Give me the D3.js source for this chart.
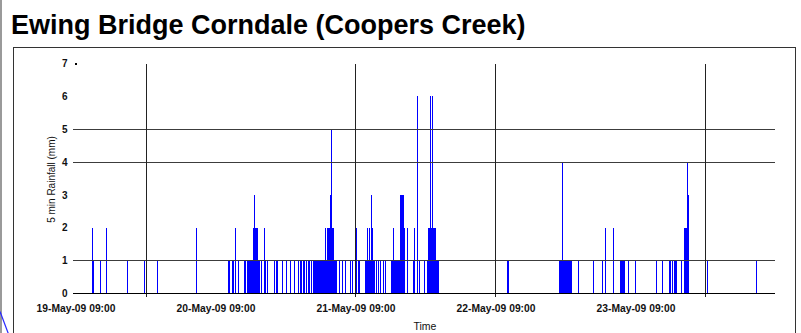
<!DOCTYPE html>
<html>
<head>
<meta charset="utf-8">
<script src="https://cdn.jsdelivr.net/npm/d3@7"></script>
<style>
  html, body { margin: 0; padding: 0; background: #fff; }
  svg { display: block; }
  text { font-family: "Liberation Sans", Arial, sans-serif; }
</style>
</head>
<body>
<svg id="chart" width="801" height="333"></svg>
<script>
const chartTitle = "Ewing Bridge Corndale (Coopers Creek)";
const yTitle = "5 min Rainfall (mm)";
const xTitle = "Time";

// 5-minute rainfall totals (mm) per calendar day, as [time of reading, mm]
const may19 = [
  ["11:50",2],["12:00",1],["13:10",1],["14:15",2],["17:45",1],["20:40",1],["23:00",1]
];
const may20 = [
  ["05:35",2],["11:05",1],["11:15",1],["11:50",1],["12:00",1],["12:20",2],["12:50",1],
  ["13:50",1],["14:05",1],["14:20",1],["14:35",1],["14:45",1],
  ["14:55",1],["15:00",1],["15:05",1],["15:10",1],["15:15",1],["15:20",1],["15:25",2],
  ["15:30",2],["15:35",2],["15:40",3],["15:45",2],["15:50",2],["15:55",2],["16:00",2],
  ["16:05",2],["16:10",2],["16:15",1],
  ["16:30",1],["16:50",1],["17:15",2],["17:30",1],["17:45",1],["19:05",1],["19:20",1],
  ["19:30",1],["20:20",1],["21:05",1],["21:50",1],["22:30",1],["23:10",1],["23:25",1],["23:40",1]
];
const may21 = [
  ["00:00",1],["00:15",1],["00:35",1],["00:50",1],["01:05",1],["01:20",1],
  ["01:40",1],["01:45",1],["01:50",1],["01:55",1],["02:00",1],["02:05",1],["02:10",1],
  ["02:15",1],["02:20",1],["02:25",1],["02:30",1],["02:35",1],["02:40",1],["02:45",1],
  ["02:50",1],["02:55",1],["03:00",1],["03:05",1],["03:10",1],["03:15",1],["03:20",1],
  ["03:25",1],["03:30",1],["03:35",1],["03:40",1],
  ["03:45",2],["03:50",1],["03:55",1],["04:05",2],["04:10",1],["04:15",1],["04:20",2],
  ["04:25",2],["04:30",2],["04:35",2],["04:40",3],["04:45",5],["04:50",2],["04:55",2],
  ["05:00",2],["05:05",2],["05:10",1],["05:15",1],["05:25",1],["05:40",1],
  ["06:15",1],["06:40",1],["07:15",1],["08:00",1],["08:20",1],["09:05",2],["09:25",1],["09:40",1],
  ["10:35",1],["10:45",1],["11:00",2],["11:10",1],["11:20",2],["11:30",1],["11:40",3],
  ["11:45",2],["11:50",1],["12:00",1],["12:05",1],["12:15",1],
  ["12:35",1],["12:55",1],["13:15",1],["13:40",1],["14:05",1],
  ["15:05",1],["15:10",1],["15:15",1],["15:20",1],["15:25",1],["15:30",2],["15:35",1],
  ["15:40",1],["15:45",1],["15:50",1],["15:55",1],["16:00",1],["16:05",1],["16:10",1],
  ["16:15",1],["16:20",1],["16:25",1],["16:30",1],["16:35",1],
  ["16:40",3],["16:45",3],["16:50",3],["16:55",3],["17:00",3],["17:05",3],["17:10",3],["17:15",2],
  ["17:50",2],["18:50",1],["19:00",2],["19:35",6],["19:50",1],["20:40",1],
  ["21:15",1],["21:20",1],["21:25",2],["21:30",2],["21:35",2],["21:40",2],["21:45",6],
  ["21:50",2],["21:55",2],["22:00",2],["22:05",6],["22:10",2],["22:15",2],["22:20",2],
  ["22:25",2],["22:30",2],["22:35",2],["22:40",1],["22:45",1],["22:50",1],["22:55",1],
  ["23:00",1],["23:05",1]
];
const may22 = [
  ["11:00",1],["11:05",1],["11:10",1],
  ["19:50",1],["20:00",1],["20:10",1],["20:15",1],["20:20",1],["20:25",4],["20:35",1],
  ["20:40",1],["20:50",1],["21:05",1],["21:10",1],["21:20",1],["21:25",1],["21:35",1],
  ["21:40",1],["21:50",1],["22:00",1],["23:10",1]
];
const may23 = [
  ["01:40",1],["03:20",1],["03:45",2],["05:05",2],
  ["06:20",1],["06:25",1],["06:30",1],["06:35",1],["06:40",1],["06:45",1],["06:50",1],
  ["06:55",1],["07:00",1],["07:05",1],
  ["07:40",1],["08:55",1],["12:30",1],["13:30",1],["14:40",1],["14:50",1],["15:15",1],
  ["15:35",1],["15:50",1],["16:00",1],["16:45",1],
  ["17:15",2],["17:20",2],["17:25",2],["17:30",2],["17:35",2],["17:50",4],["17:55",3],
  ["21:20",1]
];
const may24 = [
  ["05:35",1]
];
const dailyReadings = [
  ["2009-05-19", may19], ["2009-05-20", may20], ["2009-05-21", may21],
  ["2009-05-22", may22], ["2009-05-23", may23], ["2009-05-24", may24]
];

const timeSpan = ["2009-05-19 09:00", "2009-05-24 09:00"];
const xTickTimes = ["2009-05-19 09:00", "2009-05-20 09:00", "2009-05-21 09:00",
                    "2009-05-22 09:00", "2009-05-23 09:00"];
const xGridTimes = ["2009-05-19 21:10", "2009-05-21 09:00", "2009-05-22 09:00", "2009-05-23 21:00"];
const yTickValues = [0, 1, 2, 3, 4, 5, 6, 7];
const yGridValues = [1, 4, 5];

const parse = d3.timeParse("%Y-%m-%d %H:%M");
const readings = dailyReadings.flatMap(([day, rows]) =>
  rows.map(([hm, mm]) => ({ t: parse(day + " " + hm), mm })));

const svg = d3.select("#chart");

const x = d3.scaleTime().domain(timeSpan.map(parse)).range([75.5, 775.5]);
const y = d3.scaleLinear().domain([0, 7]).range([293.5, 63.5]);

// page edge and stray connector line at the lower left
svg.append("rect").attr("x", 0).attr("y", 0).attr("width", 2).attr("height", 333).attr("fill", "#9a9a9a");
svg.append("line").attr("x1", 0).attr("y1", 311.5).attr("x2", 8.5).attr("y2", 334)
  .attr("stroke", "#2a2aff").attr("stroke-width", 1.2);

// title
svg.append("text").attr("x", 11).attr("y", 33.5)
  .attr("font-size", 27).attr("font-weight", "bold").attr("fill", "#000")
  .text(chartTitle);

// chart frame
svg.append("rect").attr("x", 13.5).attr("y", 47.5).attr("width", 782).attr("height", 300)
  .attr("fill", "#fff").attr("stroke", "#333").attr("stroke-width", 1);

// rainfall bars
const xs = d3.timeMinute.offset;
svg.append("g").attr("shape-rendering", "crispEdges")
  .selectAll("rect").data(readings).join("rect")
  .attr("x", d => x(d.t))
  .attr("width", d => Math.max(1, x(xs(d.t, 5)) - x(d.t)))
  .attr("y", d => y(d.mm))
  .attr("height", d => y(0) - y(d.mm))
  .attr("fill", "#0000ff");

// grid
const grid = svg.append("g").attr("shape-rendering", "crispEdges");
grid.selectAll("line.h").data(yGridValues).join("line").attr("class", "h")
  .attr("x1", 72.5).attr("x2", 775)
  .attr("y1", d => y(d)).attr("y2", d => y(d))
  .attr("stroke", "#3c3c3c").attr("stroke-width", 1);
grid.selectAll("line.v").data(xGridTimes.map(parse)).join("line").attr("class", "v")
  .attr("x1", d => x(d)).attr("x2", d => x(d))
  .attr("y1", y(7)).attr("y2", y(0) + 3)
  .attr("stroke", "#222").attr("stroke-width", 1);
grid.append("line").attr("x1", 72.5).attr("x2", 774.5)
  .attr("y1", y(0)).attr("y2", y(0)).attr("stroke", "#000");
grid.append("rect").attr("x", 75).attr("y", y(7) - 1).attr("width", 2).attr("height", 2).attr("fill", "#000");

// axes
const yAxis = svg.append("g").attr("transform", "translate(75.5,0)")
  .call(d3.axisLeft(y).tickValues(yTickValues).tickFormat(d3.format("d")).tickSize(0).tickPadding(8));
yAxis.select(".domain").remove();
yAxis.selectAll("text").attr("font-size", 10).attr("font-weight", "bold").attr("fill", "#111")
  .attr("font-family", "'Liberation Sans', Arial, sans-serif");

const xAxis = svg.append("g").attr("transform", `translate(0,${y(0)})`)
  .call(d3.axisBottom(x).tickValues(xTickTimes.map(parse))
    .tickFormat(d3.timeFormat("%d-%b-%y %H:%M")).tickSize(0).tickPadding(11));
xAxis.select(".domain").remove();
xAxis.selectAll("text").attr("font-size", 10.3).attr("font-weight", "bold").attr("fill", "#111")
  .attr("font-family", "'Liberation Sans', Arial, sans-serif");

// axis titles
svg.append("text")
  .attr("transform", "translate(55,179.5) rotate(-90)")
  .attr("text-anchor", "middle").attr("font-size", 10).attr("fill", "#111")
  .text(yTitle);
svg.append("text").attr("x", 425).attr("y", 330)
  .attr("text-anchor", "middle").attr("font-size", 10.5).attr("fill", "#111")
  .text(xTitle);
</script>
</body>
</html>
